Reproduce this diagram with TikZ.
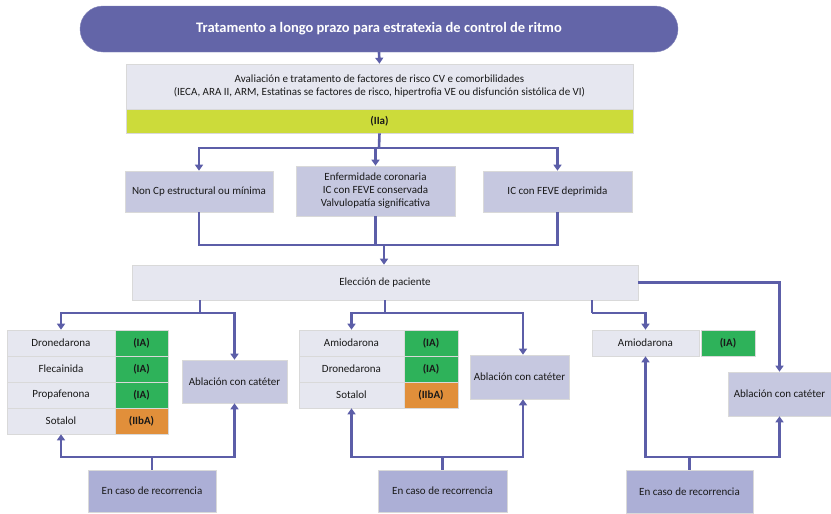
\documentclass[tikz,border=0pt]{standalone}
\usepackage{fontspec}
\setmainfont{Carlito}
\usetikzlibrary{arrows.meta,calc}
\definecolor{lineC}{RGB}{92,94,168}
\definecolor{titleC}{RGB}{99,101,168}
\definecolor{lightC}{RGB}{230,231,240}
\definecolor{lavC}{RGB}{198,200,224}
\definecolor{recC}{RGB}{172,175,214}
\definecolor{greenC}{RGB}{46,178,90}
\definecolor{orangeC}{RGB}{225,143,58}
\definecolor{yellowC}{RGB}{204,219,58}
\tikzset{
  base/.style={draw=black!15, line width=0.6pt, inner sep=0pt, align=center, font=\fontsize{11}{13}\selectfont, text=black!90},
  light/.style={base, fill=lightC},
  lav/.style={base, fill=lavC},
  rec/.style={base, fill=recC},
  grn/.style={base, fill=greenC, font=\fontsize{11}{13}\selectfont\bfseries},
  org/.style={base, fill=orangeC, font=\fontsize{11}{13}\selectfont\bfseries},
  ylw/.style={base, fill=yellowC, font=\fontsize{11}{13}\selectfont\bfseries},
  conn/.style={draw=lineC, line width=2.6pt},
  arr/.style={conn, -{Triangle[length=6pt,width=8pt]}},
  sz/.style 2 args={minimum width=#1pt, minimum height=#2pt}
}
\begin{document}
\begin{tikzpicture}[x=1pt,y=-1pt]
\useasboundingbox (0,0) rectangle (831,514);
% title
\node[fill=titleC, draw=titleC!80!white, rounded corners=23pt, sz={598}{46}, inner sep=0pt, text=white, font=\fontsize{14.5}{17}\selectfont\bfseries] (title) at (379,29) {Tratamento a longo prazo para estratexia de control de ritmo};
\node[light, sz={507}{45}] (aval) at (379.5,86.5) {Avaliación e tratamento de factores de risco CV e comorbilidades\\(IECA, ARA II, ARM, Estatinas se factores de risco, hipertrofia VE ou disfunción sistólica de VI)};
\node[ylw, sz={507}{24}] (iia) at (379.5,121) {(IIa)};
% three categories
\node[lav, sz={148}{41}] (noncp) at (199,191.5) {Non Cp estructural ou mínima};
\node[lav, sz={159}{50}] (enf) at (375.5,191) {Enfermidade coronaria\\IC con FEVE conservada\\Valvulopatía significativa};
\node[lav, sz={149}{41}] (icf) at (557.5,191.5) {IC con FEVE deprimida};
\node[light, sz={506}{35}] (elec) at (385,282.5) {Elección de paciente};
% left table
\node[light, sz={108}{26}] (tL1) at (61,343) {Dronedarona};
\node[grn, sz={53}{26}] (gL1) at (141.5,343) {(IA)};
\node[light, sz={108}{26}] (tL2) at (61,369) {Flecainida};
\node[grn, sz={53}{26}] (gL2) at (141.5,369) {(IA)};
\node[light, sz={108}{26}] (tL3) at (61,395) {Propafenona};
\node[grn, sz={53}{26}] (gL3) at (141.5,395) {(IA)};
\node[light, sz={108}{26}] (tL4) at (61,421) {Sotalol};
\node[org, sz={53}{26}] (gL4) at (141.5,421) {(IIbA)};
\node[lav, sz={105}{43}] (ablL) at (234.5,381.5) {Ablación con catéter};
\node[rec, sz={128}{42}] (recL) at (152,491) {En caso de recorrencia};
% middle table
\node[light, sz={105}{26}] (tM1) at (351.5,343) {Amiodarona};
\node[grn, sz={54}{26}] (gM1) at (431,343) {(IA)};
\node[light, sz={105}{26}] (tM2) at (351.5,369) {Dronedarona};
\node[grn, sz={54}{26}] (gM2) at (431,369) {(IA)};
\node[light, sz={105}{26}] (tM3) at (351.5,395) {Sotalol};
\node[org, sz={54}{26}] (gM3) at (431,395) {(IIbA)};
\node[lav, sz={99}{44}] (ablM) at (519.5,377) {Ablación con catéter};
\node[rec, sz={129}{42}] (recM) at (442.5,491) {En caso de recorrencia};
% right
\node[light, sz={107}{26}] (amio) at (645.5,343) {Amiodarona};
\node[grn, sz={54}{26}] (gR1) at (728,343) {(IA)};
\node[lav, sz={103}{44}] (ablR) at (779.5,394) {Ablación con catéter};
\node[rec, sz={127}{43}] (recR) at (689.5,491.5) {En caso de recorrencia};
% coordinates
\coordinate (b1) at (379,148);
\coordinate (m) at (384,245);
\coordinate (eL) at (200,313);
\coordinate (eM) at (385,313);
\coordinate (eR) at (592,313);
\coordinate (aMx) at (523,313);
\coordinate (rL) at (152,457);
\coordinate (rM) at (442.5,457);
\coordinate (rR) at (689.5,457);
\coordinate (rMx) at (523,457);
% connectors top
\draw[arr] (title.south) -- (aval.north);
\draw[conn] (iia.south) -- (b1);
\draw[arr] (b1) -| (noncp.north);
\draw[arr] (b1) -| (icf.north);
\draw[arr] (enf.north |- b1) -- (enf.north);
\draw[conn] (noncp.south) |- (m);
\draw[conn] (icf.south) |- (m);
\draw[conn] (enf.south) -- (enf.south |- m);
\draw[arr] (m) -- (m |- elec.north);
% below elec
\draw[conn] (eL |- elec.south) -- (eL);
\draw[arr] (eL) -| (tL1.north);
\draw[arr] (eL) -| (ablL.north);
\draw[conn] (eM |- elec.south) -- (eM);
\draw[arr] (eM) -| (tM1.north);
\draw[arr] (eM) -- (aMx) -- (aMx |- ablM.north);
\draw[conn] (eR |- elec.south) -- (eR);
\draw[arr] (eR) -| (amio.north);
\draw[arr] (elec.east) -| (ablR.north);
% recurrence
\draw[conn] (recL.north) -- (rL);
\draw[arr] (rL) -| (tL4.south);
\draw[arr] (rL) -| (ablL.south);
\draw[conn] (recM.north) -- (rM);
\draw[arr] (rM) -| (tM3.south);
\draw[arr] (rM) -- (rMx) -- (rMx |- ablM.south);
\draw[conn] (recR.north) -- (rR);
\draw[arr] (rR) -| (amio.south);
\draw[arr] (rR) -| (ablR.south);
\end{tikzpicture}
\end{document}
